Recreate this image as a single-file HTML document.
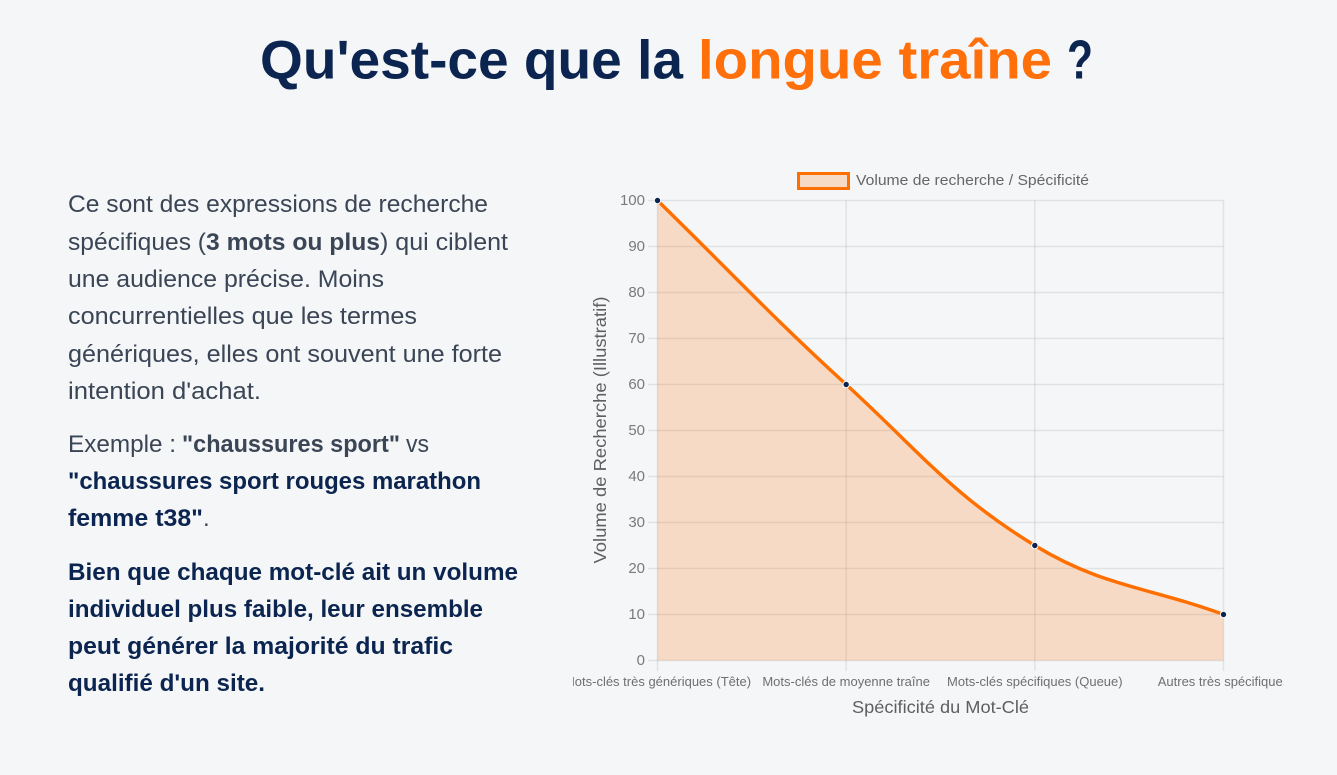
<!DOCTYPE html>
<html lang="fr">
<head>
<meta charset="utf-8">
<title>Qu'est-ce que la longue traîne ?</title>
<style>
html,body{margin:0;padding:0;width:1337px;height:775px;overflow:hidden;background:#f5f6f8;}
svg{display:block;font-family:"Liberation Sans",sans-serif;}
.b{font-size:24px;fill:#3a4555;}
.bb{font-size:24px;fill:#3a4555;font-weight:700;}
.n{font-size:24px;fill:#0b2550;font-weight:700;}
</style>
</head>
<body>
<svg id="root" width="1337" height="775" viewBox="0 0 1337 775" xmlns="http://www.w3.org/2000/svg">
  <defs><clipPath id="canvasClip"><rect x="573" y="160" width="710.5" height="570"/></clipPath></defs>

  <g font-size="55" font-weight="700">
    <text x="260" y="78.5" fill="#0b2550" textLength="423" lengthAdjust="spacingAndGlyphs">Qu'est-ce que la</text>
    <text x="698" y="78.5" fill="#ff6f0a" textLength="354" lengthAdjust="spacingAndGlyphs">longue traîne</text>
    <text x="1067" y="78.5" fill="#0b2550" textLength="26" lengthAdjust="spacingAndGlyphs">?</text>
  </g>

  <g>
    <text class="b" x="68" y="212" textLength="420" lengthAdjust="spacingAndGlyphs">Ce sont des expressions de recherche</text>
    <text class="b" x="68" y="250" textLength="138" lengthAdjust="spacingAndGlyphs">spécifiques (</text>
    <text class="bb" x="206" y="250" textLength="174" lengthAdjust="spacingAndGlyphs">3 mots ou plus</text>
    <text class="b" x="380" y="250" textLength="128" lengthAdjust="spacingAndGlyphs">) qui ciblent</text>
    <text class="b" x="68" y="287" textLength="316" lengthAdjust="spacingAndGlyphs">une audience précise. Moins</text>
    <text class="b" x="68" y="324" textLength="349" lengthAdjust="spacingAndGlyphs">concurrentielles que les termes</text>
    <text class="b" x="68" y="362" textLength="434" lengthAdjust="spacingAndGlyphs">génériques, elles ont souvent une forte</text>
    <text class="b" x="68" y="399" textLength="193" lengthAdjust="spacingAndGlyphs">intention d'achat.</text>
  </g>

  <g>
    <text class="b" x="68" y="452" textLength="108" lengthAdjust="spacingAndGlyphs">Exemple :</text>
    <text class="bb" x="182" y="452" textLength="218" lengthAdjust="spacingAndGlyphs">"chaussures sport"</text>
    <text class="b" x="406" y="452" textLength="23" lengthAdjust="spacingAndGlyphs">vs</text>
    <text class="n" x="68" y="489" textLength="413" lengthAdjust="spacingAndGlyphs">"chaussures sport rouges marathon</text>
    <text class="n" x="68" y="526" textLength="135" lengthAdjust="spacingAndGlyphs">femme t38"</text>
    <text class="b" x="203" y="526">.</text>
  </g>

  <g>
    <text class="n" x="68" y="580" textLength="450" lengthAdjust="spacingAndGlyphs">Bien que chaque mot-clé ait un volume</text>
    <text class="n" x="68" y="617" textLength="415" lengthAdjust="spacingAndGlyphs">individuel plus faible, leur ensemble</text>
    <text class="n" x="68" y="654" textLength="385" lengthAdjust="spacingAndGlyphs">peut générer la majorité du trafic</text>
    <text class="n" x="68" y="691" textLength="197" lengthAdjust="spacingAndGlyphs">qualifié d'un site.</text>
  </g>

  <g id="chart" clip-path="url(#canvasClip)"></g>
</svg>

<script>
const categories = ["Mots-clés très génériques (Tête)", "Mots-clés de moyenne traîne", "Mots-clés spécifiques (Queue)", "Autres très spécifiques"];
const seriesValues = [100, 60, 25, 10];
const yTickValues = [0, 10, 20, 30, 40, 50, 60, 70, 80, 90, 100];
const seriesName = "Volume de recherche / Spécificité";
const xAxisTitle = "Spécificité du Mot-Clé";
const yAxisTitle = "Volume de Recherche (Illustratif)";

const NS = "http://www.w3.org/2000/svg";
const chart = document.getElementById("chart");
const plot = {left: 657.5, right: 1223.5, top: 200.5, bottom: 660.5};
const yMax = 100;
const tension = 0.4;

function xScale(i) {
  return plot.left + (plot.right - plot.left) * i / (categories.length - 1);
}
function yScale(v) {
  return plot.bottom - (plot.bottom - plot.top) * v / yMax;
}
function make(tag, attrs, parent) {
  const el = document.createElementNS(NS, tag);
  for (const k in attrs) el.setAttribute(k, attrs[k]);
  (parent || chart).appendChild(el);
  return el;
}

const gridColor = "rgba(0,0,0,0.08)";

// Gridlines and ticks
yTickValues.forEach(function (v) {
  const y = yScale(v);
  const line = make("line", {x1: 648, x2: plot.right, y1: y, y2: y, stroke: gridColor, "stroke-width": 1.5});
  
  
  const label = make("text", {x: 645, y: y + 4.5, "text-anchor": "end", "font-size": 15, fill: "#7a7a7a"});
  label.textContent = v;
  
  
});
categories.forEach(function (c, i) {
  const x = xScale(i);
  const line = make("line", {x1: x, x2: x, y1: plot.top, y2: 671, stroke: gridColor, "stroke-width": 1.5});
  
  
  const label = make("text", {x: x, y: 686, "text-anchor": "middle", "font-size": 13, fill: "#6f6f6f"});
  label.textContent = c;
  
  
});

// Chart.js style bezier through the data points
const pts = seriesValues.map(function (v, i) { return {x: xScale(i), y: yScale(v)}; });
function controls(i) {
  const cur = pts[i];
  const prev = pts[i - 1] || cur;
  const next = pts[i + 1] || cur;
  const d01 = Math.hypot(cur.x - prev.x, cur.y - prev.y);
  const d12 = Math.hypot(next.x - cur.x, next.y - cur.y);
  const total = (d01 + d12) || 1;
  const fa = tension * d01 / total;
  const fb = tension * d12 / total;
  return {
    px: cur.x - fa * (next.x - prev.x), py: cur.y - fa * (next.y - prev.y),
    nx: cur.x + fb * (next.x - prev.x), ny: cur.y + fb * (next.y - prev.y)
  };
}
let curve = "M" + pts[0].x + " " + pts[0].y;
for (let i = 1; i < pts.length; i++) {
  const a = controls(i - 1);
  const b = controls(i);
  curve += " C" + a.nx + " " + a.ny + " " + b.px + " " + b.py + " " + pts[i].x + " " + pts[i].y;
}
const base = yScale(0);
const area = make("path", {
  d: curve + " L" + pts[pts.length - 1].x + " " + base + " L" + pts[0].x + " " + base + " Z",
  fill: "rgba(255,111,0,0.2)", stroke: "none"
});


const line = make("path", {d: curve, fill: "none", stroke: "#ff6f00", "stroke-width": 3.4});


pts.forEach(function (p) {
  const dot = make("circle", {cx: p.x, cy: p.y, r: 3.2, fill: "#0a2351", stroke: "#ffffff", "stroke-width": 1});
  
  
});

// Legend
const legendSwatch = make("rect", {x: 798.5, y: 173.5, width: 50, height: 15, fill: "rgba(255,111,0,0.2)", stroke: "#ff6f00", "stroke-width": 3});


const legendLabel = make("text", {x: 856, y: 185, "font-size": 14.5, fill: "#666666", textLength: 233, lengthAdjust: "spacingAndGlyphs"});
legendLabel.textContent = seriesName;



// Axis titles
const xTitle = make("text", {x: 940.5, y: 713, "text-anchor": "middle", "font-size": 17.5, fill: "#5f5f5f", textLength: 177, lengthAdjust: "spacingAndGlyphs"});
xTitle.textContent = xAxisTitle;


const yTitle = make("text", {x: 0, y: 0, "text-anchor": "middle", "font-size": 17.5, fill: "#5f5f5f", textLength: 267, lengthAdjust: "spacingAndGlyphs", transform: "translate(606 430) rotate(-90)"});
yTitle.textContent = yAxisTitle;


</script>
</body>
</html>
